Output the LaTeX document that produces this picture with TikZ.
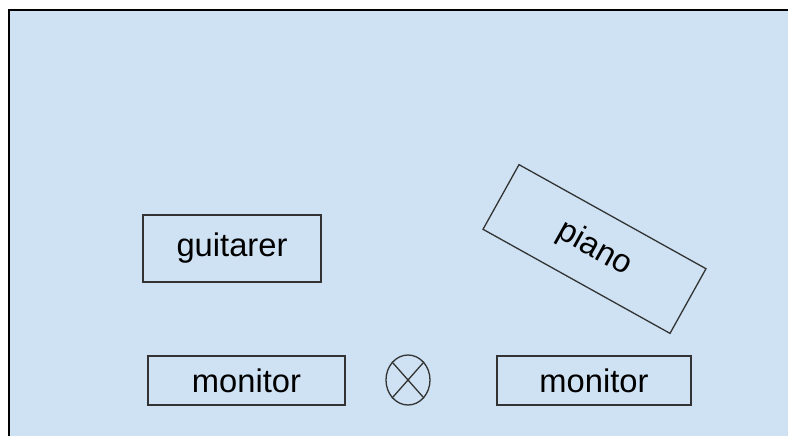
\documentclass[tikz,border=0pt]{standalone}
\usepackage{fontspec}
\setmainfont{Liberation Sans}
\usetikzlibrary{shapes.geometric}
\definecolor{bgblue}{HTML}{CFE2F3}
\definecolor{edge}{HTML}{333333}
\begin{document}
\begin{tikzpicture}[x=1pt,y=-1pt,
  item/.style={draw=edge, line width=1.3pt, inner sep=0pt, font=\fontsize{32.7}{36}\selectfont},
]
\useasboundingbox (0,0) rectangle (788,436);
\fill[white] (0,0) rectangle (788,436);
\filldraw[fill=bgblue, draw=black, line width=2pt] (9,10) rectangle (800,450);
\node[item, minimum width=178pt, minimum height=67pt] (guitar) at (232,248.5) {guitarer};
\node[item, minimum width=214pt, minimum height=74pt, rotate=-29.1] (piano) at (594.5,249) {piano};
\node[item, minimum width=197pt, minimum height=49pt] (monL) at (246.5,380.5) {monitor};
\node[item, minimum width=194pt, minimum height=49pt] (monR) at (594,380.5) {monitor};
\node[draw=edge, line width=1.3pt, ellipse, minimum width=44pt, minimum height=50pt, inner sep=0pt] (mix) at (408,380) {};
\draw[edge, line width=1.3pt] (mix.north west) -- (mix.south east) (mix.north east) -- (mix.south west);
\end{tikzpicture}
\end{document}
